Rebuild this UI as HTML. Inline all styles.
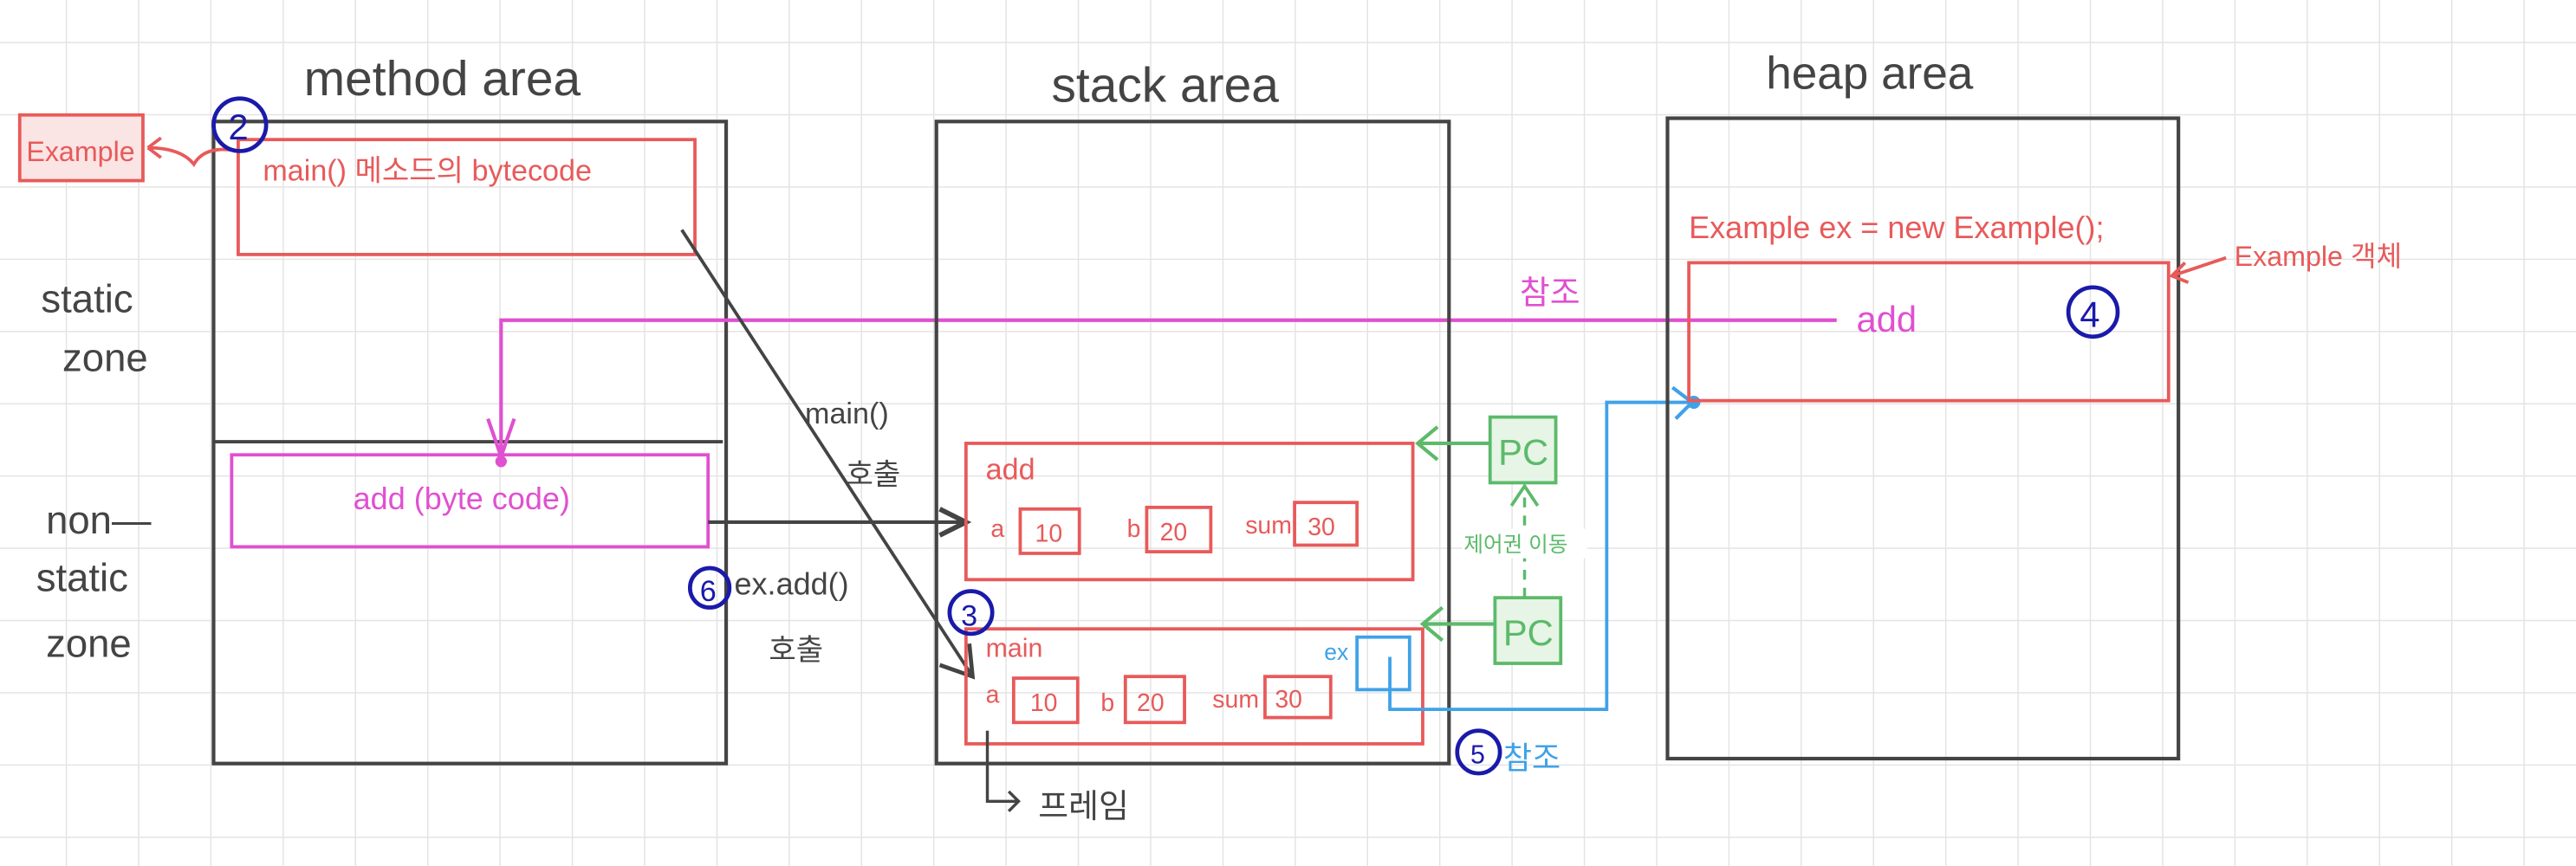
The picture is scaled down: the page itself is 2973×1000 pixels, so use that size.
<!DOCTYPE html>
<html><head><meta charset="utf-8"><style>
html,body{margin:0;padding:0;background:#fff;width:2973px;height:1000px;overflow:hidden}
svg{display:block}
text{font-family:"Liberation Sans","Noto Sans CJK KR",sans-serif}
</style></head><body>
<svg width="2973" height="1000" viewBox="0 0 1568 527.4" preserveAspectRatio="none" xmlns="http://www.w3.org/2000/svg">
<defs>
<pattern id="g" x="40" y="25.5" width="44" height="44" patternUnits="userSpaceOnUse">
<path d="M0 0H44M0 0V44" stroke="#e4e4e4" stroke-width="1.6" fill="none"/>
</pattern>
</defs>
<rect width="1568" height="528" fill="url(#g)"/>

<text x="185" y="58" font-size="30" fill="#444">method  area</text>
<text x="640" y="62" font-size="30" fill="#444">stack  area</text>
<text x="1075" y="54" font-size="28" fill="#444">heap  area</text>

<rect x="130" y="74" width="312" height="391" fill="none" stroke="#444" stroke-width="2.2"/>
<line x1="130" y1="269" x2="440" y2="269" stroke="#444" stroke-width="2"/>
<rect x="145" y="85" width="278" height="70" fill="none" stroke="#e85a5a" stroke-width="2"/>
<text x="160" y="110" font-size="18" fill="#e85a5a">main() 메소드의 bytecode</text>
<rect x="12" y="70" width="75" height="40" fill="#fbe4e4" stroke="#e85a5a" stroke-width="2"/>
<text x="16" y="98" font-size="17" fill="#e85a5a">Example</text>
<path d="M145 92 Q125 88 118 100 Q110 90 90 90 M90 90 l8 -6 M90 90 l8 6" fill="none" stroke="#e85a5a" stroke-width="2"/>
<circle cx="146" cy="76" r="16" fill="none" stroke="#1a1aaa" stroke-width="2.5"/>
<text x="139" y="85" font-size="22" fill="#1a1aaa">2</text>

<text x="25" y="190" font-size="24" fill="#444">static</text>
<text x="38" y="226" font-size="24" fill="#444">zone</text>
<text x="28" y="325" font-size="24" fill="#444">non—</text>
<text x="22" y="360" font-size="24" fill="#444">static</text>
<text x="28" y="400" font-size="24" fill="#444">zone</text>

<rect x="141" y="277" width="290" height="56" fill="none" stroke="#e050d0" stroke-width="2"/>
<text x="215" y="310" font-size="19" fill="#e050d0">add (byte code)</text>

<path d="M1118 195 H305 V278" fill="none" stroke="#e050d0" stroke-width="2.2"/>
<path d="M297 255 L305 278 L313 255" fill="none" stroke="#e050d0" stroke-width="2.2"/>
<circle cx="305" cy="281" r="3.5" fill="#e050d0"/>
<text x="925" y="185" font-size="20" fill="#e050d0">참조</text>

<line x1="415" y1="140" x2="592" y2="412" stroke="#444" stroke-width="2"/>
<path d="M572 405 L592 412 L590 392" fill="none" stroke="#444" stroke-width="2.5"/>
<text x="490" y="258" font-size="18" fill="#444">main()</text>
<text x="515" y="295" font-size="18" fill="#444">호출</text>
<line x1="431" y1="318" x2="588" y2="318" stroke="#444" stroke-width="2.2"/>
<path d="M572 310 L588 318 L572 326" fill="none" stroke="#444" stroke-width="3"/>
<circle cx="432" cy="358" r="12" fill="none" stroke="#1a1aaa" stroke-width="2.5"/>
<text x="426" y="366" font-size="18" fill="#1a1aaa">6</text>
<text x="447" y="362" font-size="19" fill="#444">ex.add()</text>
<text x="468" y="402" font-size="18" fill="#444">호출</text>

<rect x="570" y="74" width="312" height="391" fill="none" stroke="#444" stroke-width="2.2"/>
<rect x="588" y="270" width="272" height="83" fill="none" stroke="#e85a5a" stroke-width="2"/>
<text x="600" y="292" font-size="18" fill="#e85a5a">add</text>
<g font-size="15" fill="#e85a5a">
<text x="603" y="327">a</text><text x="686" y="327">b</text><text x="758" y="325">sum</text>
<text x="630" y="330">10</text><text x="706" y="329">20</text><text x="796" y="326">30</text>
<text x="600" y="428">a</text><text x="670" y="433">b</text><text x="738" y="431">sum</text>
<text x="627" y="433">10</text><text x="692" y="433">20</text><text x="776" y="431">30</text>
</g>
<g fill="none" stroke="#e85a5a" stroke-width="2">
<rect x="621" y="310" width="36" height="27"/><rect x="698" y="309" width="39" height="27"/><rect x="788" y="306" width="38" height="26"/>
<rect x="617" y="413" width="39" height="27"/><rect x="685" y="412" width="36" height="28"/><rect x="770" y="412" width="40" height="25"/>
</g>
<rect x="588" y="383" width="278" height="70" fill="none" stroke="#e85a5a" stroke-width="2"/>
<text x="600" y="400" font-size="16" fill="#e85a5a">main</text>
<circle cx="591" cy="373" r="13" fill="none" stroke="#1a1aaa" stroke-width="2.5"/>
<text x="585" y="381" font-size="18" fill="#1a1aaa">3</text>
<path d="M601 445 V488 H620 M614 482 L620 488 L614 494" fill="none" stroke="#444" stroke-width="1.8"/>
<text x="632" y="498" font-size="20" fill="#444">프레임</text>

<rect x="826" y="388" width="32" height="32" fill="none" stroke="#3fa2e8" stroke-width="2"/>
<text x="806" y="402" font-size="14" fill="#3fa2e8">ex</text>
<path d="M846 400 V432 H978 V245 H1028" fill="none" stroke="#3fa2e8" stroke-width="2"/>
<path d="M1018 236 L1030 245 L1020 255" fill="none" stroke="#3fa2e8" stroke-width="2.2"/>
<circle cx="1031" cy="245" r="4" fill="#3fa2e8"/>
<circle cx="900" cy="458" r="13" fill="none" stroke="#1a1aaa" stroke-width="2.5"/>
<text x="895" y="465" font-size="16" fill="#1a1aaa">5</text>
<text x="915" y="468" font-size="19" fill="#3fa2e8">참조</text>

<rect x="907" y="254" width="40" height="40" fill="#e6f5e6" stroke="#5cba6a" stroke-width="2"/>
<text x="912" y="283" font-size="22" fill="#5cba6a">PC</text>
<rect x="910" y="364" width="40" height="40" fill="#e6f5e6" stroke="#5cba6a" stroke-width="2"/>
<text x="915" y="393" font-size="22" fill="#5cba6a">PC</text>
<path d="M907 270 H863 M875 260 L863 270 L875 280" fill="none" stroke="#5cba6a" stroke-width="2.2"/>
<path d="M910 380 H866 M878 370 L866 380 L878 390" fill="none" stroke="#5cba6a" stroke-width="2.2"/>
<path d="M928 364 V297" fill="none" stroke="#5cba6a" stroke-width="1.8" stroke-dasharray="6 5"/>
<path d="M920 308 L928 296 L936 308" fill="none" stroke="#5cba6a" stroke-width="2"/>
<rect x="890" y="322" width="76" height="18" fill="#fff"/>
<text x="891" y="336" font-size="13" fill="#5cba6a">제어권 이동</text>

<rect x="1015" y="72" width="311" height="390" fill="none" stroke="#444" stroke-width="2.2"/>
<text x="1028" y="145" font-size="19" fill="#e85a5a">Example ex = new Example();</text>
<rect x="1028" y="160" width="292" height="84" fill="none" stroke="#e85a5a" stroke-width="2"/>
<text x="1130" y="202" font-size="22" fill="#e050d0">add</text>
<circle cx="1274" cy="190" r="15" fill="none" stroke="#1a1aaa" stroke-width="2.5"/>
<text x="1266" y="199" font-size="22" fill="#1a1aaa">4</text>
<text x="1360" y="162" font-size="17" fill="#e85a5a">Example 객체</text>
<path d="M1355 157 L1322 168 M1330 160 L1322 168 L1332 172" fill="none" stroke="#e85a5a" stroke-width="2"/>
</svg>
</body></html>
